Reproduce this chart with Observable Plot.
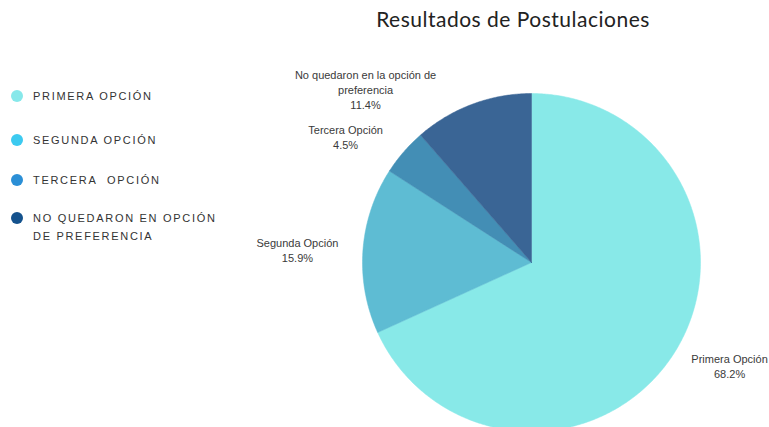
<!DOCTYPE html>
<html>
<head>
<meta charset="utf-8">
<script src="https://cdn.jsdelivr.net/npm/d3@7"></script>
<script src="https://cdn.jsdelivr.net/npm/@observablehq/plot@0.6"></script>
<style>
  html, body { margin: 0; padding: 0; background: #fff; }
  #wrap { position: relative; width: 769px; height: 427px; overflow: hidden; }
  #title { position: absolute; left: 0; width: 1026px; top: 6px; text-align: center;
    font-family: Lato, sans-serif; font-size: 21px; color: #222; letter-spacing: 0.5px; }
  #legend { position: absolute; left: 10px; top: 0; font-family: "Liberation Sans", Arial, sans-serif;
    font-size: 11px; color: #333; letter-spacing: 1.7px; }
  .item { position: absolute; left: 0; white-space: nowrap; line-height: 18px; }
  .item .dot { position: absolute; left: 1px; top: 3px; width: 12px; height: 12px; border-radius: 50%; }
  .item .lbl { position: absolute; left: 23px; top: 0; }
</style>
</head>
<body>
<div id="wrap">
  <div id="chart"></div>
  <div id="title"></div>
  <div id="legend"></div>
</div>
<script>
// ---- data ----
const title = "Resultados de Postulaciones";
const categories = ["Primera Opción", "Segunda Opción", "Tercera Opción", "No quedaron en la opción de\npreferencia"];
const values = [68.2, 15.9, 4.5, 11.4];
const legendLabels = ["PRIMERA OPCIÓN", "SEGUNDA OPCIÓN", "TERCERA\u00a0 OPCIÓN", "NO QUEDARON EN OPCIÓN\nDE PREFERENCIA"];

// ---- styles / layout ----
const sliceColors = ["#88e9e8", "#5ebcd3", "#438eb5", "#3a6595"];
const legendColors = ["#87e8ea", "#3ccaf0", "#2b8fd6", "#14528d"];
const legendTops = [87, 131, 171, 209];
// label positions in pie-radius units (x right, y up)
const labelPos = [[1.172, -0.609], [-1.385, 0.077], [-1.10, 0.746], [-0.982, 1.024]];
const cx = 531, cy = 262, R = 169;

// ---- pie geometry from values ----
const pie = d3.pie().sort(null).value(d => d)(values);
const slices = [];
pie.forEach((p, i) => {
  const key = categories[i];
  slices.push({key, x: 0, y: 0});
  const n = Math.max(2, Math.ceil((p.endAngle - p.startAngle) / (Math.PI / 360)));
  for (let k = 0; k <= n; k++) {
    const a = p.startAngle + (p.endAngle - p.startAngle) * k / n;
    slices.push({key, x: Math.sin(a), y: Math.cos(a)});
  }
  slices.push({key, x: 0, y: 0});
});
const labels = categories.map((c, i) => ({
  text: c + "\n" + values[i].toFixed(1) + "%",
  x: labelPos[i][0], y: labelPos[i][1]
}));

const chart = Plot.plot({
  width: 769, height: 427,
  margin: 0,
  style: {background: "transparent", overflow: "visible"},
  x: {domain: [-1, 1], range: [cx - R, cx + R], axis: null},
  y: {domain: [-1, 1], range: [cy + R, cy - R], axis: null},
  color: {type: "ordinal", domain: categories, range: sliceColors},
  marks: [
    Plot.line(slices, {x: "x", y: "y", z: "key", fill: "key", stroke: "key", strokeWidth: 0.5, curve: "linear"}),
    Plot.text(labels, {x: "x", y: "y", text: "text", fontSize: 11, fill: "#3a3a3a",
      fontFamily: "Liberation Sans, Arial, sans-serif", lineHeight: 1.36, lineAnchor: "middle"})
  ]
});
document.getElementById("chart").appendChild(chart);

document.getElementById("title").textContent = title;
const leg = document.getElementById("legend");
legendLabels.forEach((t, i) => {
  const it = document.createElement("div");
  it.className = "item";
  it.style.top = legendTops[i] + "px";
  const dot = document.createElement("span");
  dot.className = "dot";
  dot.style.background = legendColors[i];
  const lbl = document.createElement("span");
  lbl.className = "lbl";
  lbl.innerHTML = t.split("\n").join("<br>");
  it.appendChild(dot); it.appendChild(lbl);
  leg.appendChild(it);
});
</script>
</body>
</html>
